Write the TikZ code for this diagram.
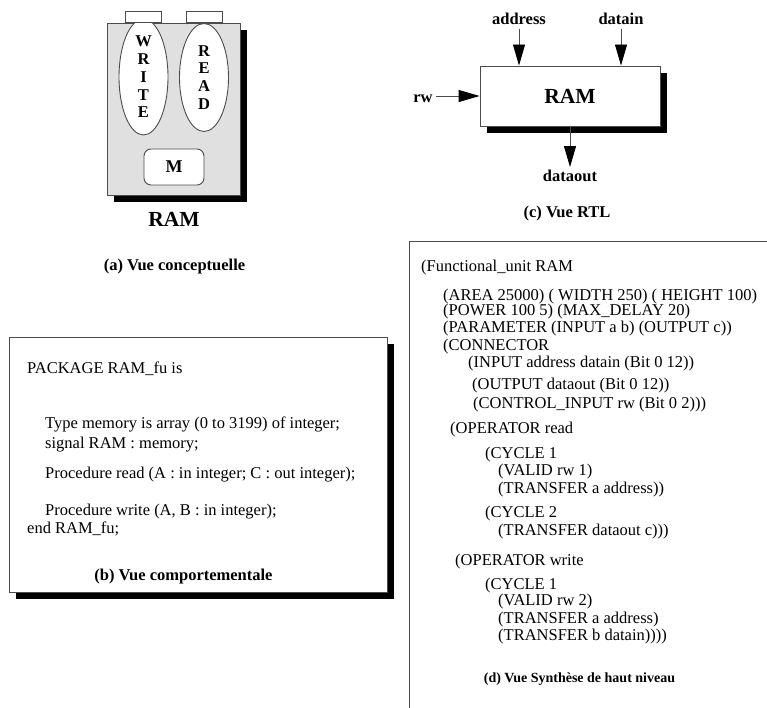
\documentclass[tikz,border=0pt]{standalone}
\usepackage{fontspec}
\setmainfont{Liberation Serif}
\usetikzlibrary{arrows.meta, positioning, shapes.geometric, shadows}

\begin{document}
\begin{tikzpicture}[
  x=1pt, y=-1pt,
  every node/.style={font=\fontsize{16.5}{18}\selectfont},
  frame/.style={draw=black!70, line width=0.9pt},
  shadowbox/.style={frame, rectangle, general shadow={fill=black, shadow xshift=7pt, shadow yshift=-7pt}},
  unit/.style={frame, ellipse, fill=white, minimum width=49pt, minimum height=108pt, inner sep=0pt, align=center, font=\fontsize{16.5}{17.8}\selectfont\bfseries},
  tab/.style={frame, rectangle, fill=white, minimum width=36pt, minimum height=11pt, inner sep=0pt},
  mem/.style={frame, rectangle, rounded corners=7pt, fill=white, minimum width=60pt, minimum height=36pt, font=\fontsize{18}{20}\selectfont\bfseries},
  title/.style={inner sep=0pt, font=\fontsize{21.5}{24}\selectfont\bfseries},
  signame/.style={anchor=base, font=\fontsize{16.5}{18}\selectfont\bfseries},
  sig/.style={draw=black!70, line width=0.9pt, -{Triangle[length=21pt, width=12pt, color=black]}},
  code/.style={anchor=base west, inner sep=0pt},
  caption/.style={anchor=base, inner sep=0pt, font=\fontsize{16.5}{18}\selectfont\bfseries}
]
\useasboundingbox (0,0) rectangle (767,708);

% (a) vue conceptuelle
\node[shadowbox, fill=black!12, minimum width=133pt, minimum height=172pt] (ram) at (173.5,109.5) {};
\node[unit] (write) at (143.5,77) {W\\R\\I\\T\\E};
\node[unit] (read) at (204,77.5) {R\\E\\A\\D};
\node[tab, anchor=south] (wtab) at (write |- ram.north) {};
\node[tab, anchor=south] (rtab) at (read |- ram.north) {};
\node[mem] (mem) at (174,167) {M};
\node[title] (ramname) at (174,219.5) {RAM};
\node[caption] (capa) at (174.5,270) {(a) Vue conceptuelle};

% (c) vue RTL
\node[shadowbox, fill=white, minimum width=180pt, minimum height=60pt, font=\fontsize{21.5}{24}\selectfont\bfseries] (rtl) at (570,96) {RAM};
\node[signame] (address) at (519,25) {address};
\node[signame] (datain) at (621,25) {datain};
\node[signame] (rw) at (423,103) {rw};
\node[signame] (dataout) at (570,182) {dataout};
\node[caption] (capc) at (567,218) {(c) Vue RTL};

\draw[sig] (address.south) -- (address.south |- rtl.north);
\draw[sig] (datain.south) -- (datain.south |- rtl.north);
\draw[sig] (rw.east |- rtl.west) -- (rtl.west);
\draw[sig] (rtl.south) -- (dataout.north);

% (b) vue comportementale
\node[shadowbox, fill=white, minimum width=378pt, minimum height=255pt] (pkg) at (198,464.5) {};
\node[code] (pkghead) at (27,373) {PACKAGE RAM\_fu is};
\node[code] (pkgtype) at (45,428) {Type memory is array (0 to 3199) of integer;};
\node[code] (pkgsig) at (45,448) {signal RAM : memory;};
\node[code] (pkgread) at (45,478) {Procedure read (A : in integer; C : out integer);};
\node[code] (pkgwrite) at (45,515) {Procedure write (A, B : in integer);};
\node[code] (pkgend) at (27,533) {end RAM\_fu;};
\node[caption] (capb) at (183.5,580) {(b) Vue comportementale};

% (d) vue synthese de haut niveau
\coordinate (dfoot) at (409,708);
\coordinate (dcorner) at (409,241);
\coordinate (dtop) at (767,241);
\draw[frame] (dfoot) -- (dcorner) -- (dtop);

\node[code] (fu) at (421,271) {(Functional\_unit RAM};
\node[code] (area) at (443,300) {(AREA 25000) ( WIDTH 250) ( HEIGHT 100)};
\node[code] (power) at (443,315) {(POWER 100 5) (MAX\_DELAY 20)};
\node[code] (param) at (443,332) {(PARAMETER (INPUT a b) (OUTPUT c))};
\node[code] (conn) at (443,350) {(CONNECTOR};
\node[code] (cin) at (468,367) {(INPUT address datain (Bit 0 12))};
\node[code] (cout) at (472,389) {(OUTPUT dataout (Bit 0 12))};
\node[code] (cctl) at (473,408) {(CONTROL\_INPUT rw (Bit 0 2)))};
\node[code] (opread) at (450,433) {(OPERATOR read};
\node[code] (rcyc1) at (485,458) {(CYCLE 1};
\node[code] (rvalid) at (498,475) {(VALID rw 1)};
\node[code] (rtrans) at (498,493) {(TRANSFER a address))};
\node[code] (rcyc2) at (485,517) {(CYCLE 2};
\node[code] (rtrans2) at (498,535) {(TRANSFER dataout c)))};
\node[code] (opwrite) at (455,565) {(OPERATOR write};
\node[code] (wcyc1) at (485,589) {(CYCLE 1};
\node[code] (wvalid) at (498,605) {(VALID rw 2)};
\node[code] (wtransa) at (498,623) {(TRANSFER a address)};
\node[code] (wtransb) at (498,640) {(TRANSFER b datain))))};
\node[caption, font=\fontsize{14}{16}\selectfont\bfseries] (capd) at (579.5,682) {(d) Vue Synthèse de haut niveau};
\end{tikzpicture}
\end{document}
